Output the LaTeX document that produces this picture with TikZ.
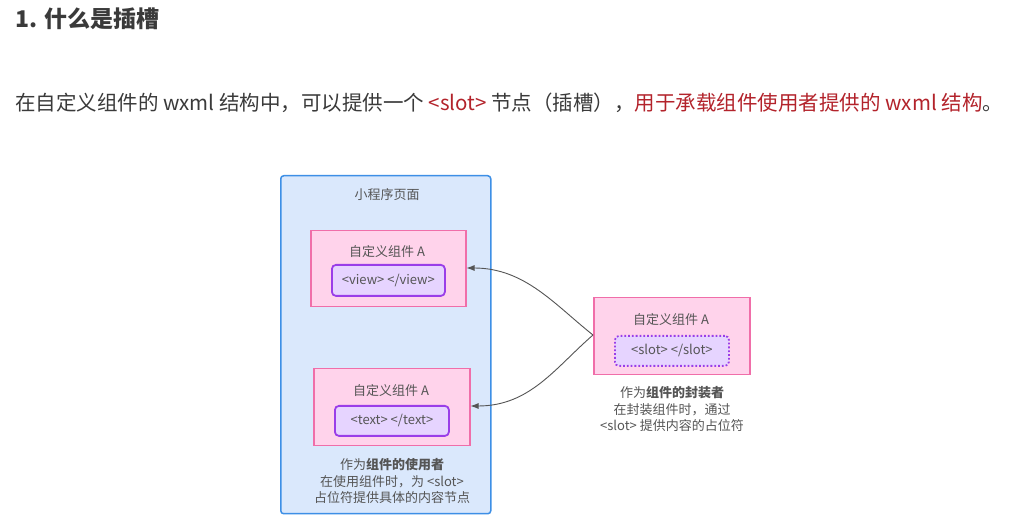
\documentclass[tikz,border=0pt]{standalone}
\usepackage{fontspec}
\setmainfont{Noto Sans CJK SC}
\usetikzlibrary{arrows.meta}
\definecolor{txt}{HTML}{3A3A3A}
\definecolor{dtxt}{HTML}{555555}
\definecolor{redt}{HTML}{B3232B}
\definecolor{bluefill}{HTML}{DAE8FC}
\definecolor{bluedraw}{HTML}{3D8FE6}
\definecolor{pinkfill}{HTML}{FFD3EB}
\definecolor{pinkdraw}{HTML}{F06EA9}
\definecolor{purpfill}{HTML}{E6D4FF}
\definecolor{purpdraw}{HTML}{9A3EE8}
\definecolor{arrowc}{HTML}{555555}
\tikzset{
  pagebox/.style={draw=bluedraw, fill=bluefill, line width=1.5pt, rounded corners=3pt},
  compbox/.style={draw=pinkdraw, fill=pinkfill, line width=1.5pt},
  tagbox/.style={draw=purpdraw, fill=purpfill, line width=1.8pt, rounded corners=4pt},
  slotbox/.style={draw=purpdraw, fill=purpfill, line width=1.8pt, dotted, rounded corners=4pt},
  dlabel/.style={text=dtxt, font=\fontsize{13}{15}\selectfont, inner sep=0pt},
  captext/.style={text=dtxt, font=\fontsize{13}{16.2}\selectfont, align=center, inner sep=0pt},
  conn/.style={draw=arrowc, line width=0.9pt, -{Latex[length=8pt,width=6pt]}},
}
\begin{document}
\begin{tikzpicture}[x=1pt,y=-1pt]
\useasboundingbox (0,0) rectangle (1013,518);
\fill[white] (0,0) rectangle (1013,518);
% title and paragraph
\node[anchor=west, text=txt, font=\fontsize{23}{26}\selectfont\bfseries, inner sep=0pt] (title) at (15,19) {1. 什么是插槽};
\node[anchor=west, text=txt, font=\fontsize{20.5}{24}\selectfont, inner sep=0pt] (para) at (15,103)
  {在自定义组件的 wxml 结构中，可以提供一个 \textcolor{redt}{<slot>} 节点（插槽），\textcolor{redt}{用于承载组件使用者提供的 wxml 结构}。};
% page box
\node[pagebox, minimum width=210pt, minimum height=338pt, anchor=north west] (page) at (280,175) {};
\node[dlabel] (pagetitle) at (387,195) {小程序页面};
% component 1
\node[compbox, minimum width=155pt, minimum height=76pt, anchor=north west] (c1) at (310,230) {};
\node[dlabel] (c1t) at (387,252) {自定义组件 A};
\node[tagbox, minimum width=113pt, minimum height=31pt, anchor=north west] (v1) at (331,264) {};
\node[dlabel] (v1t) at (v1.center) {<view> </view>};
% component 2
\node[compbox, minimum width=156pt, minimum height=77pt, anchor=north west] (c2) at (313,368) {};
\node[dlabel] (c2t) at (391,391) {自定义组件 A};
\node[tagbox, minimum width=114pt, minimum height=30pt, anchor=north west] (v2) at (334,405) {};
\node[dlabel] (v2t) at (v2.center) {<text> </text>};
\node[captext] (cap2) at (392,481) {作为\textbf{组件的使用者}\\在使用组件时，为 <slot>\\占位符提供具体的内容节点};
% right component
\node[compbox, minimum width=156pt, minimum height=77pt, anchor=north west] (c3) at (593,297) {};
\node[dlabel] (c3t) at (671,320) {自定义组件 A};
\node[slotbox, minimum width=114pt, minimum height=30pt, anchor=north west] (s3) at (614,335) {};
\node[dlabel] (s3t) at (s3.center) {<slot> </slot>};
\node[captext] (cap3) at (672,409) {作为\textbf{组件的封装者}\\在封装组件时，通过\\<slot> 提供内容的占位符};
% connectors
\coordinate (src) at (593,335);
\draw[conn] (src) .. controls (555,305) and (525,268) .. (c1.east |- 0,268);
\draw[conn] (src) .. controls (555,368) and (530,406) .. (c2.east |- 0,406);
\end{tikzpicture}
\end{document}
